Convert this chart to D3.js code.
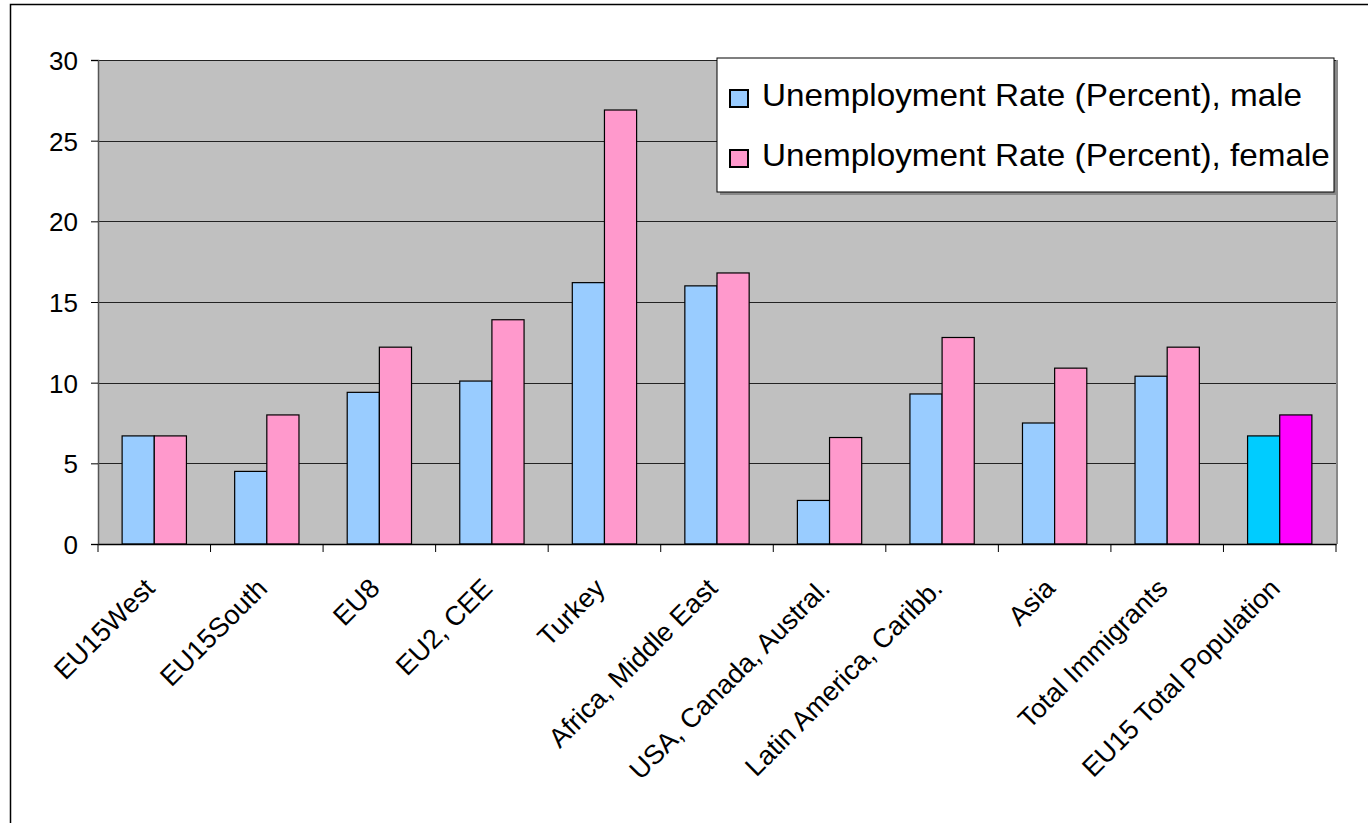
<!DOCTYPE html>
<html>
<head>
<meta charset="utf-8">
<script src="https://cdn.jsdelivr.net/npm/d3@7"></script>
<style>
  body { margin: 0; background: #fff; }
  text { font-family: "Liberation Sans", Arial, sans-serif; fill: #000; }
</style>
</head>
<body>
<div id="chart"></div>
<script>
// data
const categories = [
  "EU15West", "EU15South", "EU8", "EU2, CEE", "Turkey", "Africa, Middle East",
  "USA, Canada, Austral.", "Latin America, Caribb.", "Asia", "Total Immigrants",
  "EU15 Total Population",
];
const maleRate = [6.7, 4.5, 9.4, 10.1, 16.2, 16.0, 2.7, 9.3, 7.5, 10.4, 6.7];
const femaleRate = [6.7, 8.0, 12.2, 13.9, 26.9, 16.8, 6.6, 12.8, 10.9, 12.2, 8.0];
const seriesNames = [
  "Unemployment Rate (Percent), male",
  "Unemployment Rate (Percent), female",
];
const yTicks = [0, 5, 10, 15, 20, 25, 30];

const W = 1368, H = 823;
const plot = { left: 98, right: 1336, top: 60, bottom: 544 };

const svg = d3.select("#chart").append("svg").attr("width", W).attr("height", H);

// outer frame (only left and top edges are visible)
svg.append("rect")
  .attr("x", 10.5).attr("y", 4.5)
  .attr("width", W + 20).attr("height", H + 20)
  .attr("fill", "#fff").attr("stroke", "#000").attr("stroke-width", 1.5);

const x = d3.scaleBand().domain(categories).range([plot.left, plot.right]);
const xSub = d3.scaleBand().domain(["male", "female"])
  .range([0, x.bandwidth()]).paddingInner(0).paddingOuter(0.75);
const y = d3.scaleLinear().domain([0, 30]).range([plot.bottom, plot.top]);

// plot background
svg.append("rect")
  .attr("x", plot.left).attr("y", plot.top)
  .attr("width", plot.right - plot.left).attr("height", plot.bottom - plot.top)
  .attr("fill", "#c0c0c0");
// shadow on right edge
svg.append("line")
  .attr("x1", plot.right + 1).attr("x2", plot.right + 1)
  .attr("y1", plot.top).attr("y2", plot.bottom)
  .attr("stroke", "#888").attr("stroke-width", 2);

// gridlines
svg.append("g")
  .selectAll("line")
  .data(yTicks.slice(1))
  .enter()
  .append("line")
  .attr("x1", plot.left).attr("x2", plot.right)
  .attr("y1", (d) => Math.round(y(d)) + 0.5).attr("y2", (d) => Math.round(y(d)) + 0.5)
  .attr("stroke", "#222").attr("stroke-width", 1);

// bars
const rows = categories.map((c, i) => ({ cat: c, male: maleRate[i], female: femaleRate[i], last: i === categories.length - 1 }));
const colors = {
  male: (d) => (d.last ? "#00ccff" : "#99ccff"),
  female: (d) => (d.last ? "#ff00ff" : "#ff99cc"),
};

["male", "female"].forEach((key) => {
  svg.append("g")
    .selectAll("rect")
    .data(rows)
    .enter()
    .append("rect")
    .attr("x", (d) => x(d.cat) + xSub(key))
    .attr("width", xSub.bandwidth())
    .attr("y", (d) => y(d[key]))
    .attr("height", (d) => y(0) - y(d[key]))
    .attr("fill", colors[key])
    .attr("stroke", "#000")
    .attr("stroke-width", 1.2);
});

// y axis
const yAxis = svg.append("g")
  .attr("transform", `translate(${plot.left},0)`)
  .call(d3.axisLeft(y).tickValues(yTicks).tickSize(7).tickPadding(13));
yAxis.select(".domain").attr("stroke", "#555").attr("stroke-width", 1.5);
yAxis.selectAll(".tick line").attr("stroke", "#000");
yAxis.selectAll("text").style("font-size", "26px").attr("dy", "0.36em")
  .attr("font-family", "Liberation Sans, Arial, sans-serif");

// x axis
const xAxis = svg.append("g")
  .attr("transform", `translate(0,${plot.bottom})`)
  .call(d3.axisBottom(x).tickSize(0).tickFormat(""));
xAxis.select(".domain").attr("stroke", "#000").attr("stroke-width", 1.5);

// category separator ticks
svg.append("g")
  .selectAll("line")
  .data(d3.range(categories.length + 1))
  .enter()
  .append("line")
  .attr("x1", (i) => plot.left + i * x.step()).attr("x2", (i) => plot.left + i * x.step())
  .attr("y1", plot.bottom).attr("y2", plot.bottom + 8)
  .attr("stroke", "#000").attr("stroke-width", 1);

// rotated category labels
svg.append("g")
  .selectAll("text")
  .data(categories)
  .enter()
  .append("text")
  .attr("transform", (d) => `translate(${x(d) + x.bandwidth() / 2 + 2},${plot.bottom + 46}) rotate(-45)`)
  .attr("text-anchor", "end")
  .style("font-size", "27px")
  .text((d) => d);

// legend
const lg = { x: 717, y: 58, w: 617, h: 134 };
svg.append("rect")
  .attr("x", lg.x + 3).attr("y", lg.y + 3).attr("width", lg.w).attr("height", lg.h)
  .attr("fill", "#888");
svg.append("rect")
  .attr("x", lg.x).attr("y", lg.y).attr("width", lg.w).attr("height", lg.h)
  .attr("fill", "#fff").attr("stroke", "#000").attr("stroke-width", 1);

const legendColors = ["#99ccff", "#ff99cc"];
const legendTexts = [];
seriesNames.forEach((name, i) => {
  const base = 106 + i * 60;
  svg.append("rect")
    .attr("x", 730).attr("y", base - 16).attr("width", 18).attr("height", 17)
    .attr("fill", legendColors[i]).attr("stroke", "#000").attr("stroke-width", 2);
  legendTexts.push(
    svg.append("text")
      .attr("x", 0).attr("y", 0)
      .style("font-size", "31px")
      .text(name)
      .attr("data-base", base)
  );
});
// stretch legend text slightly so the longer line fills the box like the reference
const fullLen = legendTexts[1].node().getComputedTextLength();
const sx = 568 / fullLen;
legendTexts.forEach((t) => {
  t.attr("transform", `translate(762,${t.attr("data-base")}) scale(${sx},1)`);
});
</script>
</body>
</html>
